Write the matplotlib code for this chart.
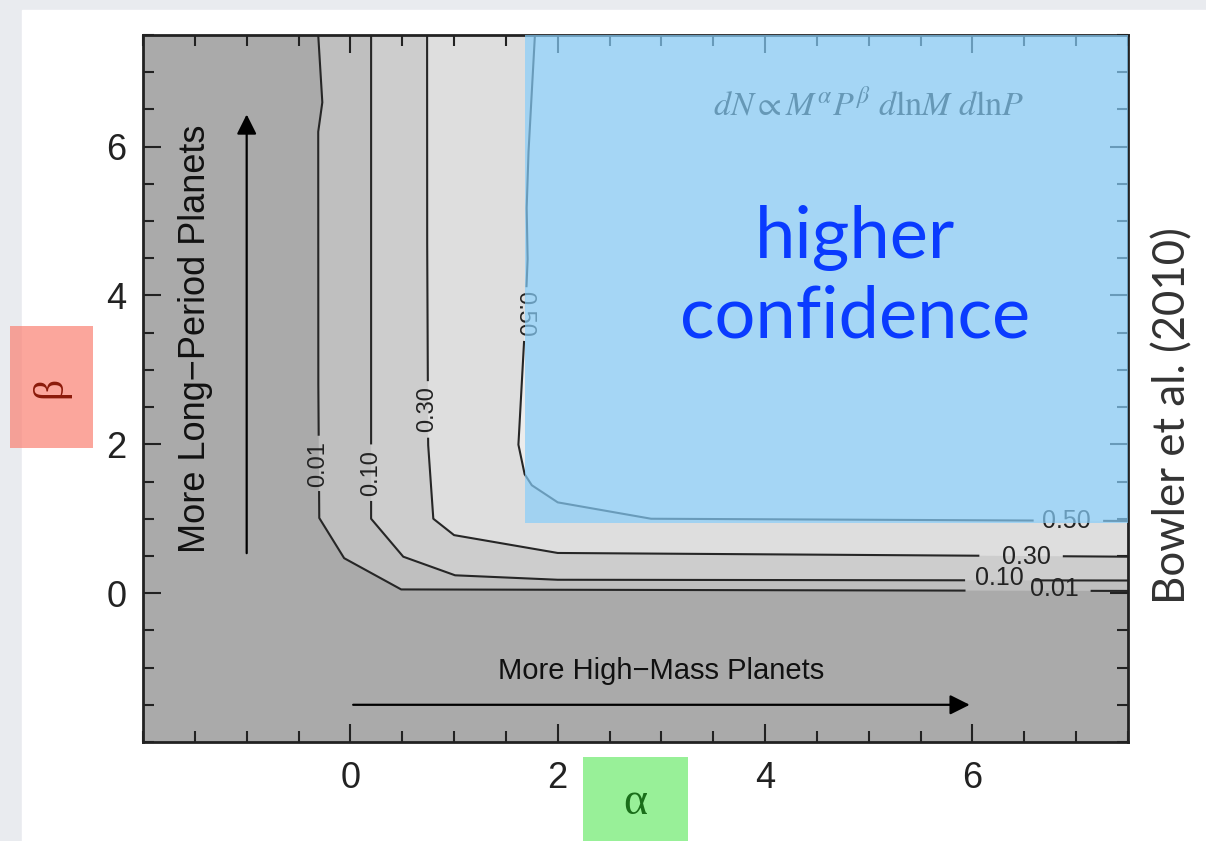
import numpy as np
import matplotlib.pyplot as plt
from matplotlib.patches import Rectangle
from matplotlib.ticker import MultipleLocator

# contours (alpha, beta)
niveaux = ['0.01', '0.10', '0.30', '0.50']
a_001 = [-0.31, -0.27, -0.31, -0.31, -0.30, -0.06, 0.49, 7.5]
b_001 = [7.5, 6.6, 6.2, 3.0, 1.01, 0.47, 0.05, 0.03]
a_010 = [0.20, 0.20, 0.20, 0.51, 1.01, 2.0, 7.5]
b_010 = [7.5, 4.0, 1.0, 0.49, 0.24, 0.18, 0.17]
a_030 = [0.74, 0.74, 0.75, 0.80, 1.0, 2.0, 7.5]
b_030 = [7.5, 5.0, 2.0, 1.0, 0.78, 0.54, 0.49]
a_050 = [1.78, 1.76, 1.72, 1.70, 1.71, 1.68, 1.64, 1.62, 1.68, 1.75, 2.0, 2.9, 7.5]
b_050 = [7.5, 7.0, 6.0, 5.2, 4.5, 3.5, 2.5, 2.0, 1.6, 1.45, 1.22, 1.0, 0.97]
contours = [(a_001, b_001), (a_010, b_010), (a_030, b_030), (a_050, b_050)]

# étiquettes des contours
lab_vert = [(-0.31, 1.74, 90), (0.20, 1.62, 90), (0.74, 2.48, 90), (1.68, 3.75, -90)]
lab_horiz = [(6.79, 0.06), (6.26, 0.21), (6.52, 0.49), (6.91, 0.97)]
# trous dans les lignes autour des étiquettes horizontales (gauche, droite)
trous_h = [(0.83, 0.30), (0.30, 0.30), (0.46, 0.35), (0.32, 0.34)]

couleurs = ['#aaaaaa', '#bfbfbf', '#cdcdcd', '#dedede', '#ececec']


def ligne_dense(a, b, n=80):
    xs, ys = [], []
    for i in range(len(a) - 1):
        t = np.linspace(0, 1, n, endpoint=False)
        xs.append(a[i] + t*(a[i+1] - a[i]))
        ys.append(b[i] + t*(b[i+1] - b[i]))
    xs.append([a[-1]])
    ys.append([b[-1]])
    return np.concatenate(xs), np.concatenate(ys)


plt.rcParams['font.family'] = ['Liberation Sans', 'DejaVu Sans']
plt.rcParams['mathtext.fontset'] = 'stix'

fig = plt.figure(figsize=(12.06, 8.41), dpi=100, facecolor='#e9ebef')
fig.patches.append(Rectangle((22/1206, 0), 1, 831/841, transform=fig.transFigure,
                             color='white', zorder=-5))
ax = fig.add_axes([143/1206, 99/841, 985/1206, 707/841])
ax.set_xlim(-2, 7.5)
ax.set_ylim(-2, 7.5)
ax.set_facecolor(couleurs[0])

# remplissage des zones
for k, (a, b) in enumerate(contours):
    ax.fill(a + [7.5], b + [7.5], color=couleurs[k+1], lw=0, zorder=1)

# lignes, coupées sous les étiquettes
for k, (a, b) in enumerate(contours):
    xs, ys = ligne_dense(a, b)
    xv, yv, _ = lab_vert[k]
    xh, yh = lab_horiz[k]
    gl, gr = trous_h[k]
    cache = (np.abs(xs - xv) < 0.15) & (np.abs(ys - yv) < 0.37)
    cache |= (np.abs(ys - yh) < 0.15) & (xs > xh - gl) & (xs < xh + gr)
    ys = np.where(cache, np.nan, ys)
    ax.plot(xs, ys, color='#262626', lw=1.5, zorder=2)

for k, (x, y, rot) in enumerate(lab_vert):
    ax.text(x, y, niveaux[k], rotation=rot, ha='center', va='center', fontsize=17,
            color='#222222', zorder=3)
for k, (x, y) in enumerate(lab_horiz):
    ax.text(x, y, niveaux[k], ha='center', va='center', fontsize=18,
            color='#222222', zorder=3)

# flèches
ax.annotate('', xy=(-1.0, 6.47), xytext=(-1.0, 0.5),
            arrowprops=dict(arrowstyle='-|>', color='black', lw=1.6, mutation_scale=30))
ax.annotate('', xy=(6.0, -1.5), xytext=(0.0, -1.5),
            arrowprops=dict(arrowstyle='-|>', color='black', lw=1.6, mutation_scale=30))
ax.text(-1.49, 3.42, 'More Long\u2212Period Planets', rotation=90, ha='center', va='center',
        fontsize=26, color='#111111')
ax.text(3.0, -1.04, 'More High\u2212Mass Planets', ha='center', va='center',
        fontsize=21, color='#111111')

ax.text(5.0, 6.57, r'$dN \propto M^{\alpha}P^{\beta}\ d\mathrm{ln}M\ d\mathrm{ln}P$',
        ha='center', va='center', fontsize=24.5, color='#1a1a1a', zorder=4)

# zone bleue
ax.add_patch(Rectangle((1.68, 0.94), 7.5 - 1.68, 7.5 - 0.94, color='#87cefa', alpha=0.7,
                       lw=0, zorder=6, clip_on=False))
ax.text(4.87, 4.24, 'higher\nconfidence', ha='center', va='center', fontsize=52,
        color='#0a3bff', family='Lato', linespacing=1.25, zorder=7)

ax.set_xticks([0, 2, 4, 6])
ax.set_yticks([0, 2, 4, 6])
ax.xaxis.set_minor_locator(MultipleLocator(0.5))
ax.yaxis.set_minor_locator(MultipleLocator(0.5))
ax.tick_params(which='both', direction='in', top=True, right=True, width=1.5,
               colors='#222222', labelsize=26)
ax.tick_params(which='major', length=13)
ax.tick_params(which='minor', length=8)
ax.tick_params(axis='x', pad=14)
ax.tick_params(axis='y', pad=12)
for s in ax.spines.values():
    s.set_linewidth(2)
    s.set_color('#222222')

# étiquettes alpha / beta
fig.patches.append(Rectangle((10/1206, 393/841), 83/1206, 122/841, transform=fig.transFigure,
                             color='#fa8072', alpha=0.7, lw=0))
fig.text(51/1206, 454/841, '\u03b2', rotation=90, ha='center', va='center', fontsize=30,
         color='#8b1a0a', family='Liberation Serif')
fig.patches.append(Rectangle((583/1206, 0), 105/1206, 84/841, transform=fig.transFigure,
                             color='#98f098', lw=0))
fig.text(635/1206, 38/841, '\u03b1', ha='center', va='center', fontsize=33,
         color='#1a6e1a', family='Liberation Serif')

fig.text(1173/1206, 425/841, 'Bowler et al. (2010)', rotation=90, ha='center', va='center',
         fontsize=31.5, color='#333333', family='Lato')

fig.savefig('out.png', dpi=100, facecolor=fig.get_facecolor())
